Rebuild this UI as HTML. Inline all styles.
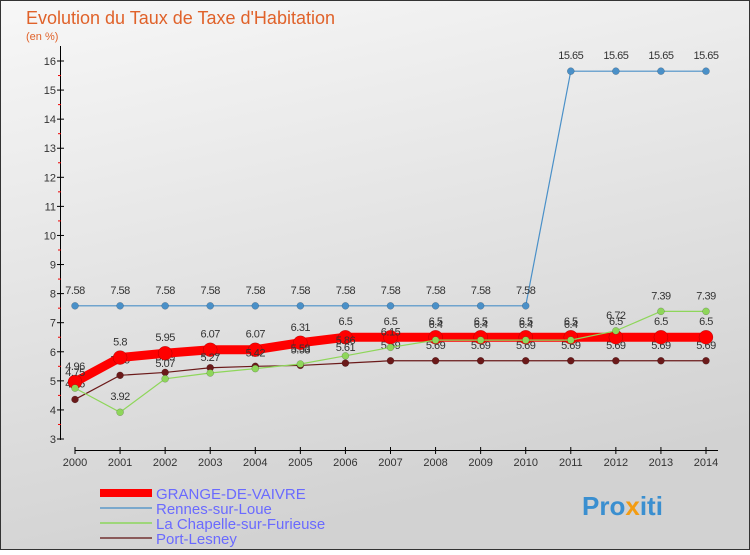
<!DOCTYPE html>
<html><head><meta charset="utf-8"><style>
body{margin:0;width:750px;height:550px;overflow:hidden;font-family:"Liberation Sans",sans-serif}
svg text{font-family:"Liberation Sans",sans-serif}
</style></head><body>
<svg id="c" width="750" height="550" xmlns="http://www.w3.org/2000/svg">
<defs><linearGradient id="bg" x1="0" y1="0" x2="0.3" y2="1"><stop offset="0" stop-color="#f7f7f7"/><stop offset="1" stop-color="#d2d2d2"/></linearGradient></defs>
<rect x="0.5" y="0.5" width="749" height="549" fill="url(#bg)" stroke="#333"/>
<text x="26" y="24" font-size="18" fill="#e0622a">Evolution du Taux de Taxe d'Habitation</text>
<text x="26" y="40" font-size="11" fill="#e0622a">(en %)</text>
<g id="axes"></g><g id="series"></g>
<g>
<rect x="100" y="489" width="52" height="8" fill="#ff0000"/>
<text x="156" y="499" font-size="15" fill="#6a6aff">GRANGE-DE-VAIVRE</text>
<line x1="100" y1="508" x2="152" y2="508" stroke="#7aa8cc" stroke-width="2"/>
<text x="156" y="514" font-size="15" fill="#6a6aff">Rennes-sur-Loue</text>
<line x1="100" y1="523" x2="152" y2="523" stroke="#9ed67a" stroke-width="2"/>
<text x="156" y="529" font-size="15" fill="#6a6aff">La Chapelle-sur-Furieuse</text>
<line x1="100" y1="538" x2="152" y2="538" stroke="#8a5a5a" stroke-width="2"/>
<text x="156" y="544" font-size="15" fill="#6a6aff">Port-Lesney</text>
</g>
<text x="582" y="515" font-size="26" font-weight="bold" fill="#3a8fd0">Pro<tspan fill="#f39c12">x</tspan>iti</text>
</svg>
<script>
const years=[2000,2001,2002,2003,2004,2005,2006,2007,2008,2009,2010,2011,2012,2013,2014];
const yTicks=[3,4,5,6,7,8,9,10,11,12,13,14,15,16];
const grange=[4.96,5.8,5.95,6.07,6.07,6.31,6.5,6.5,6.5,6.5,6.5,6.5,6.5,6.5,6.5];
const rennes=[7.58,7.58,7.58,7.58,7.58,7.58,7.58,7.58,7.58,7.58,7.58,15.65,15.65,15.65,15.65];
const chapelle=[4.75,3.92,5.07,5.27,5.42,5.58,5.86,6.15,6.4,6.4,6.4,6.4,6.72,7.39,7.39];
const port=[4.36,5.19,5.29,5.45,5.5,5.53,5.61,5.69,5.69,5.69,5.69,5.69,5.69,5.69,5.69];
const NS="http://www.w3.org/2000/svg";
const X=i=>75+i*(706-75)/(years.length-1);
const Y=v=>439-(v-3)*(439-61)/13;
function mk(t,a,p){const e=document.createElementNS(NS,t);for(const k in a)e.setAttribute(k,a[k]);p.appendChild(e);return e;}
const ax=document.getElementById('axes'),sr=document.getElementById('series');
const yl=mk('line',{x1:60.5,y1:46,x2:60.5,y2:440,stroke:'#000'},ax);


const xl=mk('line',{x1:75,y1:450.5,x2:718,y2:450.5,stroke:'#000'},ax);


yTicks.forEach(v=>{
 const t=mk('text',{x:56,y:Y(v)+4,'font-size':11,'text-anchor':'end',fill:'#333'},ax);t.textContent=v;
 
 
 mk('line',{x1:57,y1:Y(v),x2:64,y2:Y(v),stroke:'#000'},ax);
 if(v<16)mk('line',{x1:58,y1:Y(v+0.5),x2:61,y2:Y(v+0.5),stroke:'#e00'},ax);
});
years.forEach((y,i)=>{
 const t=mk('text',{x:X(i),y:466,'font-size':11,'text-anchor':'middle',fill:'#333'},ax);t.textContent=y;
 
 
 mk('line',{x1:X(i),y1:447,x2:X(i),y2:454,stroke:'#000'},ax);
});
function series(vals,color,w,r,name){
 const g=mk('g',{},sr);
 
 
 const pl=mk('polyline',{points:vals.map((v,i)=>X(i)+','+Y(v)).join(' '),fill:'none',stroke:color,'stroke-width':w},g);
 
 
 vals.forEach((v,i)=>{
  const c=mk('circle',{cx:X(i),cy:Y(v),r:r,fill:color,stroke:'rgba(0,0,0,0.3)','stroke-width':0.5},g);
  
  
  const t=mk('text',{x:X(i),y:Y(v)-12,'font-size':11,'text-anchor':'middle',fill:'#333','letter-spacing':'-0.5'},g);
  t.textContent=v;
  
  
 });
}
series(rennes,'#4a90c8',1.2,3.5,'rennes');
series(port,'#6b1a1a',1.2,3.5,'port-lesney');
series(grange,'#ff0000',9,7,'grange');
series(chapelle,'#8ed65a',1.2,3.5,'chapelle');
</script>
</body></html>
